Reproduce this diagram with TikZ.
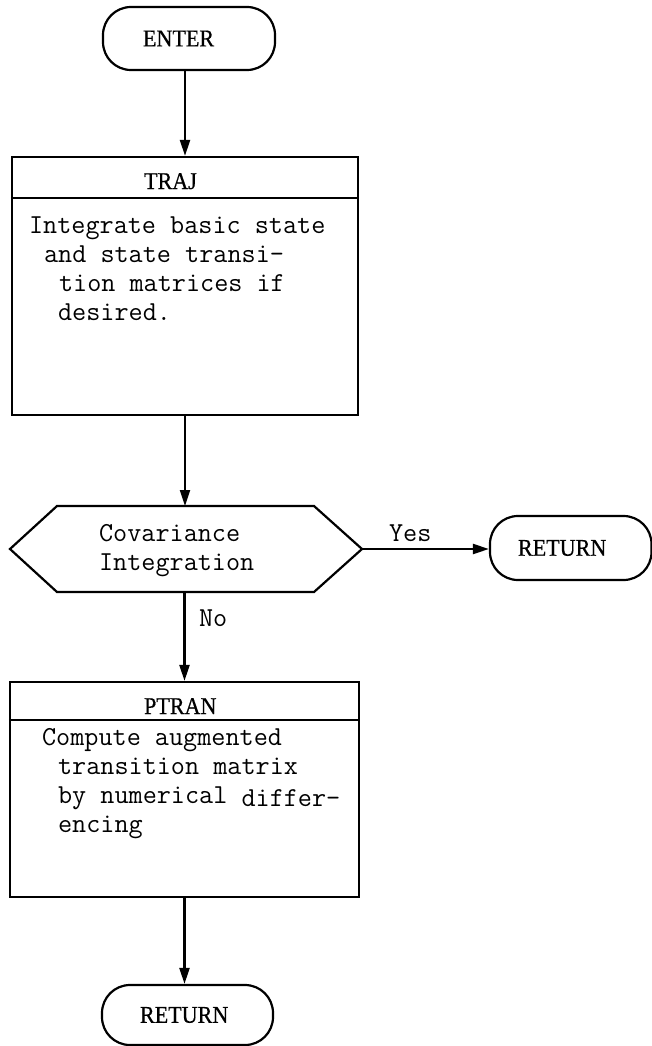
\documentclass[tikz,border=0pt]{standalone}
\usepackage{fontspec}
\newfontfamily\titlefont[FakeStretch=0.92,FakeBold=0.5]{Liberation Serif}
\usetikzlibrary{arrows.meta}
\newcommand{\typewriter}{\ttfamily\fontsize{27.4pt}{29pt}\selectfont}
\newcommand{\headfont}{\titlefont\fontsize{24pt}{28pt}\selectfont}

\begin{document}
\begin{tikzpicture}[x=1pt,y=-1pt,
  line width=2.2pt,
  flow/.style={-{Triangle[length=16pt,width=10pt]}},
  terminal/.style={draw, rounded corners=28pt, align=left, font=\headfont, inner ysep=0pt},
  procbox/.style={draw, inner sep=0pt},
  heading/.style={anchor=base west, font=\headfont, inner sep=0pt},
  body/.style={anchor=north west, align=left, font=\typewriter, inner sep=0pt},
  tag/.style={anchor=base west, font=\typewriter, inner sep=0pt}]

\useasboundingbox (0,0) rectangle (652,1046);

% start terminal
\node[terminal, minimum height=63pt, inner xsep=40pt, text width=92pt] (enter) at (189,38.5) {ENTER};

% TRAJ process box
\node[procbox, minimum width=346pt, minimum height=258pt] (traj) at (185,286) {};
\coordinate (trajrule) at (0,198);
\draw (traj.west |- trajrule) -- (traj.east |- trajrule);
\node[heading] (trajtitle) at (143,189) {TRAJ};
\node[body] (trajtext) at (28,216) {Integrate basic state\\
\hspace*{15pt}and state transi-\\
\hspace*{30pt}tion matrices if\\
\hspace*{29pt}desired.};

% covariance decision
\node[minimum width=352pt, minimum height=86pt, inner sep=0pt, outer sep=0pt] (dec) at (186,549) {};
\draw (dec.west) -- ([xshift=47pt]dec.north west) -- ([xshift=-48pt]dec.north east)
  -- (dec.east) -- ([xshift=-48pt]dec.south east) -- ([xshift=47pt]dec.south west) -- cycle;
\node[body] (dectext) at (98,523) {Covariance\\Integration};

% early return
\node[terminal, minimum height=64pt, inner xsep=28pt, text width=105.5pt] (ret1) at (570.75,548) {RETURN};

% PTRAN process box
\node[procbox, minimum width=349pt, minimum height=215pt] (ptran) at (184.5,789.5) {};
\coordinate (ptranrule) at (0,720);
\draw (ptran.west |- ptranrule) -- (ptran.east |- ptranrule);
\node[heading] (ptrantitle) at (143,714) {PTRAN};
\node[body] (ptrantext) at (41,727) {Compute augmented\\
\hspace*{16pt}transition matrix\\
\hspace*{16pt}by numerical \raisebox{-3pt}{differ-}\\
\hspace*{16pt}encing};

% final return
\node[terminal, minimum height=60pt, inner xsep=38pt, text width=95pt] (ret2) at (187.5,1015) {RETURN};

% connectors
\draw[flow] (enter.south -| traj.north) -- (traj.north);
\draw[flow] (traj.south) -- (traj.south |- dec.north);
\draw[flow] (dec.east) -- (dec.east -| ret1.west);
\node[tag] (yes) at (388,541) {Yes};
\draw[flow] (ptran.north |- dec.south) -- (ptran.north);
\node[tag] (no) at (198,626) {No};
\draw[flow] (ptran.south) -- (ptran.south |- ret2.north);

\end{tikzpicture}
\end{document}
